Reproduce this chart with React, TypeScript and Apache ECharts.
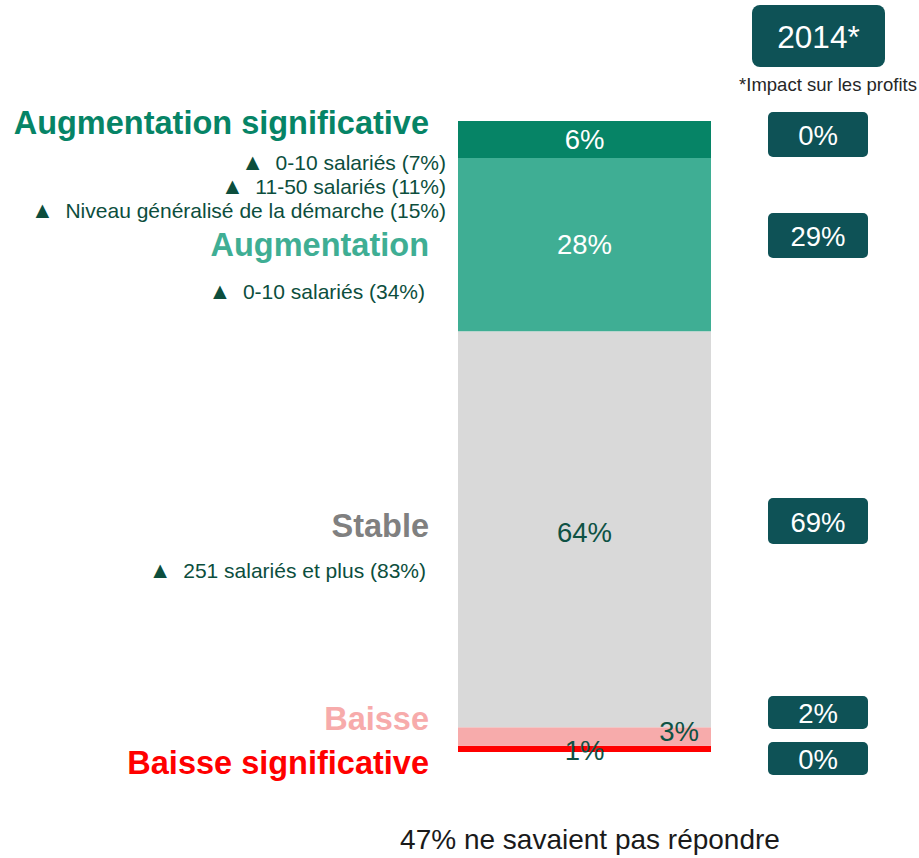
import React, { useEffect, useRef } from "react";
import * as echarts from "echarts";

// ---- data ----
const categories = ["Impact"];
const seriesNames = [
  "Baisse significative",
  "Baisse",
  "Stable",
  "Augmentation",
  "Augmentation significative",
];
const seriesValues = [1, 3, 64, 28, 6];
// 2014 impact on profits, same order as seriesNames
const impact2014 = [0, 2, 69, 29, 0];
const subLabelsAugSig = [
  "0-10 salariés (7%)",
  "11-50 salariés (11%)",
  "Niveau généralisé de la démarche (15%)",
];
const subLabelsAug = ["0-10 salariés (34%)"];
const subLabelsStable = ["251 salariés et plus (83%)"];
const headerYear = "2014*";
const headerNote = "*Impact sur les profits";
const footerNote = "47% ne savaient pas répondre";

// ---- styles ----
const FONT = '"Liberation Sans", Arial, Helvetica, sans-serif';
const segColors = ["#ff0000", "#f7abab", "#d9d9d9", "#3fae94", "#068466"];
const labelColors = ["#0e5244", "#0e5244", "#0e5244", "#ffffff", "#ffffff"];
const titleColors = ["#ff0000", "#f7abab", "#808080", "#3fae94", "#068466"];
const boxColor = "#0e5256";
const subColor = "#0c4e3d";

export default function App() {
  const ref = useRef<HTMLDivElement>(null);

  useEffect(() => {
    if (!ref.current) return;
    const chart = echarts.init(ref.current, undefined, { renderer: "svg" });

    const series: any[] = seriesNames.map((name, i) => {
      let label: any = {
        show: true,
        position: "inside",
        color: labelColors[i],
        fontSize: 27.5,
        fontFamily: FONT,
        formatter: (p: any) => p.value + "%",
      };
      if (i === 1) {
        label = { ...label, position: [221, 4], align: "center", verticalAlign: "middle" };
      }
      if (i === 0) {
        label = { ...label, offset: [0, 2] };
      }
      if (i === 2) {
        label = { ...label, offset: [0, 3] };
      }
      return {
        name,
        type: "bar",
        stack: "total",
        barWidth: "100%",
        data: [seriesValues[i]],
        itemStyle: { color: segColors[i] },
        label,
      };
    });

    const graphic: any[] = [];
    // Left titles
    const titleY = [763, 719, 526, 245, 123];
    seriesNames.forEach((name, i) => {
      graphic.push({
        type: "text",
        x: 429,
        y: titleY[i],
        style: {
          text: name,
          fill: titleColors[i],
          font: `bold 32.5px ${FONT}`,
          textAlign: "right",
          textVerticalAlign: "middle",
        },
      });
    });
    const subText = (t: string, x: number, y: number) => ({
      type: "text",
      x,
      y,
      style: {
        text: "{t|▲}\u00a0\u00a0" + t,
        fill: subColor,
        font: `21px ${FONT}`,
        textAlign: "right",
        textVerticalAlign: "middle",
        rich: {
          t: { font: `23px ${FONT}`, fill: subColor },
        },
      },
    });
    const augSigY = [162, 186, 210];
    subLabelsAugSig.forEach((t, i) => graphic.push(subText(t, 446, augSigY[i])));
    subLabelsAug.forEach((t) => graphic.push(subText(t, 425, 291)));
    subLabelsStable.forEach((t) => graphic.push(subText(t, 426, 570)));

    // Header box
    graphic.push({
      type: "rect",
      shape: { x: 752, y: 5, width: 133, height: 62, r: 8 },
      style: { fill: boxColor },
    });
    graphic.push({
      type: "text",
      x: 818.5,
      y: 37,
      style: {
        text: headerYear,
        fill: "#ffffff",
        font: `31.5px ${FONT}`,
        textAlign: "center",
        textVerticalAlign: "middle",
      },
    });
    graphic.push({
      type: "text",
      x: 828,
      y: 84,
      style: {
        text: headerNote,
        fill: "#262626",
        font: `18.5px ${FONT}`,
        textAlign: "center",
        textVerticalAlign: "middle",
      },
    });

    // Impact boxes
    const boxY = [742, 696, 498, 213, 112];
    const boxH = [33, 33, 46, 45, 45];
    impact2014.forEach((v, i) => {
      graphic.push({
        type: "rect",
        shape: { x: 768, y: boxY[i], width: 100, height: boxH[i], r: 5 },
        style: { fill: boxColor },
      });
      graphic.push({
        type: "text",
        x: 818,
        y: boxY[i] + boxH[i] / 2 + 1,
        style: {
          text: v + "%",
          fill: "#ffffff",
          font: `27.5px ${FONT}`,
          textAlign: "center",
          textVerticalAlign: "middle",
        },
      });
    });

    // Footer
    graphic.push({
      type: "text",
      x: 590,
      y: 839,
      style: {
        text: footerNote,
        fill: "#1a1a1a",
        font: `28px ${FONT}`,
        textAlign: "center",
        textVerticalAlign: "middle",
      },
    });

    chart.setOption({
      animation: false,
      grid: { left: 458, width: 253, top: 121, bottom: 106 },
      xAxis: { type: "category", data: categories, show: false },
      yAxis: { type: "value", min: 0, max: 102, show: false },
      series,
      graphic,
    });

    return () => chart.dispose();
  }, []);

  return (
    <div
      ref={ref}
      style={{ position: "fixed", left: 0, top: 0, width: 919, height: 858, background: "#fff" }}
    />
  );
}
